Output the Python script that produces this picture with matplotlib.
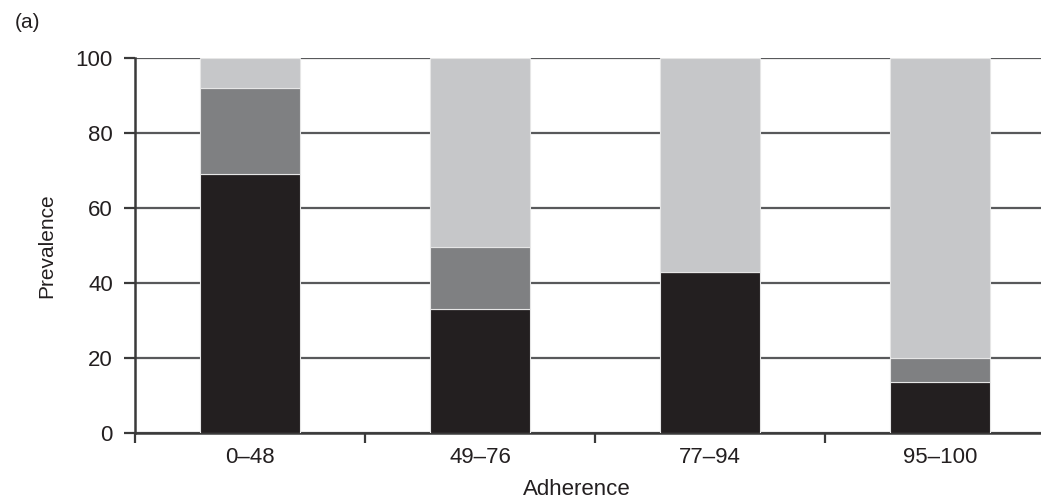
import matplotlib.pyplot as plt
import numpy as np

plt.rcParams['font.family'] = ['Liberation Sans', 'DejaVu Sans']

categorias = ["0\u201348", "49\u201376", "77\u201394", "95\u2013100"]
preto = [69, 33, 43, 13.5]
cinza = [23, 16.5, 0, 6.5]
claro = [8, 50.5, 57, 80]

cor_texto = '#231f20'

fig = plt.figure(figsize=(10.41, 5.01), dpi=100)
ax = fig.add_axes([0.1297, 0.1357, 0.8837, 0.7485])

x = np.arange(len(categorias))
larg = 0.435
ax.bar(x, preto, larg, color='#231f20', edgecolor='#e6e6e6', linewidth=0.8, zorder=3)
ax.bar(x, cinza, larg, bottom=preto, color='#7f8082', edgecolor='#e6e6e6', linewidth=0.8, zorder=3)
base2 = np.array(preto) + np.array(cinza)
ax.bar(x, claro, larg, bottom=base2, color='#c6c7c9', edgecolor='#e6e6e6', linewidth=0.8, zorder=3)

ax.set_xlim(-0.5, 3.5)
ax.set_ylim(0, 100)
ax.set_yticks([0, 20, 40, 60, 80, 100])
ax.yaxis.grid(True, color='#58595b', linewidth=1.6, zorder=0)
ax.set_axisbelow(True)

ax.set_xticks([-0.5, 0.5, 1.5, 2.5])
ax.set_xticklabels([])
ax.set_xticks(x, minor=True)
ax.set_xticklabels(categorias, minor=True)
ax.tick_params(axis='x', which='minor', length=0, pad=10, labelsize=16, labelcolor=cor_texto)
ax.tick_params(axis='x', which='major', length=7, width=1.6, color='#3a3a3a')
ax.tick_params(axis='y', length=8, width=1.6, color='#3a3a3a', pad=8, labelsize=16, labelcolor=cor_texto)

for s in ['top', 'right']:
    ax.spines[s].set_visible(False)
for s in ['left', 'bottom']:
    ax.spines[s].set_color('#3a3a3a')
    ax.spines[s].set_linewidth(1.8)

ax.set_ylabel('Prevalence', fontsize=15, color=cor_texto, labelpad=14)
ax.set_xlabel('Adherence', fontsize=16, color=cor_texto)
ax.xaxis.set_label_coords(0.48, -0.122)
fig.text(0.014, 0.945, '(a)', fontsize=15, color=cor_texto)

fig.savefig('out.png', dpi=100)
